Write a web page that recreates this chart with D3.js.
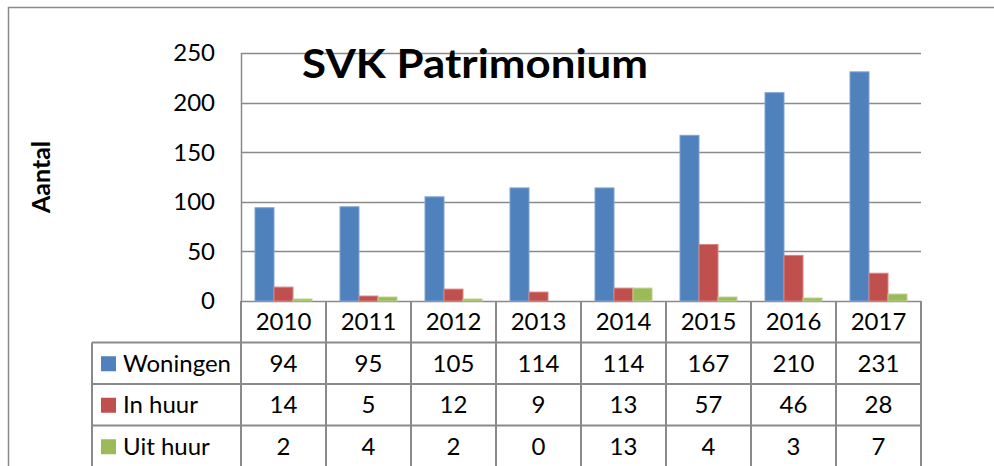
<!DOCTYPE html>
<html>
<head>
<meta charset="utf-8">
<script src="https://cdn.jsdelivr.net/npm/d3@7"></script>
<style>
  body { margin: 0; background: #fff; }
  svg { display: block; font-family: Lato, "Open Sans", sans-serif; }
</style>
</head>
<body>
<svg id="chart"></svg>
<script>
const width = 994;
const height = 466;

// data
const years = ["2010", "2011", "2012", "2013", "2014", "2015", "2016", "2017"];
const seriesNames = ["Woningen", "In huur", "Uit huur"];
const woningen = [94, 95, 105, 114, 114, 167, 210, 231];
const inHuur = [14, 5, 12, 9, 13, 57, 46, 28];
const uitHuur = [2, 4, 2, 0, 13, 4, 3, 7];
const yTicks = [0, 50, 100, 150, 200, 250];
const colors = ["#4F81BD", "#C0504D", "#9BBB59"];
const strokes = ["#7FA3D3", "#D88482", "#BBD38B"];

const allSeries = [woningen, inHuur, uitHuur];

const plot = {left: 241, right: 921, top: 53, bottom: 301};
const rowH = 41.5;
const tableLeft = 92;
const lineColor = "#8a8a8a";
const fontSize = 24;

let svg = d3.select("#chart")
            .attr("width", width)
            .attr("height", height);

// outer chart border (top and left visible)
svg.append("path")
   .attr("d", "M8.5," + height + "V7.5H" + width)
   .attr("fill", "none")
   .attr("stroke", lineColor)
   .attr("stroke-width", 1.5);

let x = d3.scaleBand()
          .domain(years)
          .range([plot.left, plot.right]);

let x1 = d3.scaleBand()
           .domain(seriesNames)
           .range([14, 71]);

let y = d3.scaleLinear()
          .domain([0, 250])
          .range([plot.bottom, plot.top]);

// gridlines
svg.append("g")
   .selectAll("line")
   .data(yTicks)
   .enter()
   .append("line")
   .attr("x1", plot.left)
   .attr("x2", plot.right)
   .attr("y1", d => Math.round(y(d)) + 0.5)
   .attr("y2", d => Math.round(y(d)) + 0.5)
   .attr("stroke", lineColor)
   .attr("stroke-width", 1.5);

// y axis line
svg.append("line")
   .attr("x1", plot.left + 0.5).attr("x2", plot.left + 0.5)
   .attr("y1", plot.top).attr("y2", plot.bottom)
   .attr("stroke", lineColor)
   .attr("stroke-width", 1.5);

// y tick labels
svg.append("g")
   .selectAll("text")
   .data(yTicks)
   .enter()
   .append("text")
   .attr("x", 215)
   .attr("y", d => y(d))
   .attr("dy", "0.35em")
   .attr("text-anchor", "end")
   .attr("font-size", fontSize)
   .attr("fill", "#000")
   .text(d => d);

// bars
svg.append("g")
   .selectAll("g")
   .data(seriesNames)
   .enter()
   .append("g")
   .attr("fill", (d, i) => colors[i])
   .attr("stroke", (d, i) => strokes[i])
   .selectAll("rect")
   .data((d, i) => years.map((yr, j) => ({year: yr, name: d, value: allSeries[i][j]})))
   .enter()
   .append("rect")
   .attr("x", d => x(d.year) + x1(d.name))
   .attr("y", d => y(d.value))
   .attr("width", x1.bandwidth())
   .attr("height", d => y(0) - y(d.value))
   .attr("stroke-width", 1);

// title
svg.append("text")
   .attr("x", 475)
   .attr("y", 78)
   .attr("text-anchor", "middle")
   .attr("font-size", 41)
   .attr("font-weight", "bold")
   .attr("textLength", 346)
   .attr("lengthAdjust", "spacingAndGlyphs")
   .text("SVK Patrimonium");

// y axis title
svg.append("text")
   .attr("transform", "translate(50,177) rotate(-90)")
   .attr("text-anchor", "middle")
   .attr("font-size", 25)
   .attr("font-weight", "bold")
   .text("Aantal");

// data table
let table = svg.append("g")
               .attr("stroke", lineColor)
               .attr("stroke-width", 2);

// vertical lines of the year columns
table.selectAll("line.col")
     .data(years.concat(["end"]))
     .enter()
     .append("line")
     .attr("class", "col")
     .attr("x1", d => d === "end" ? plot.right : x(d))
     .attr("x2", d => d === "end" ? plot.right : x(d))
     .attr("y1", plot.bottom)
     .attr("y2", height);

// horizontal lines of the rows
table.selectAll("line.row")
     .data(seriesNames)
     .enter()
     .append("line")
     .attr("class", "row")
     .attr("x1", tableLeft)
     .attr("x2", plot.right)
     .attr("y1", (d, i) => plot.bottom + rowH * (i + 1))
     .attr("y2", (d, i) => plot.bottom + rowH * (i + 1));

table.append("line")
     .attr("x1", tableLeft).attr("x2", tableLeft)
     .attr("y1", plot.bottom + rowH).attr("y2", height);

// header years
svg.append("g")
   .selectAll("text")
   .data(years)
   .enter()
   .append("text")
   .attr("x", d => x(d) + x.bandwidth() / 2)
   .attr("y", plot.bottom + rowH / 2)
   .attr("dy", "0.35em")
   .attr("text-anchor", "middle")
   .attr("font-size", fontSize)
   .text(d => d);

// rows: legend key, name, values
let rows = svg.append("g")
              .selectAll("g")
              .data(seriesNames)
              .enter()
              .append("g")
              .attr("transform", (d, i) => "translate(0," + (plot.bottom + rowH * (i + 1.5)) + ")");

rows.append("rect")
    .attr("x", 101)
    .attr("y", -7)
    .attr("width", 15)
    .attr("height", 15)
    .attr("fill", (d, i) => colors[i]);

rows.append("text")
    .attr("x", 123)
    .attr("dy", "0.35em")
    .attr("font-size", fontSize)
    .text(d => d);

rows.selectAll("text.val")
    .data((d, i) => allSeries[i].map((v, j) => ({year: years[j], value: v})))
    .enter()
    .append("text")
    .attr("class", "val")
    .attr("x", d => x(d.year) + x.bandwidth() / 2)
    .attr("dy", "0.35em")
    .attr("text-anchor", "middle")
    .attr("font-size", fontSize)
    .text(d => d.value);
</script>
</body>
</html>
